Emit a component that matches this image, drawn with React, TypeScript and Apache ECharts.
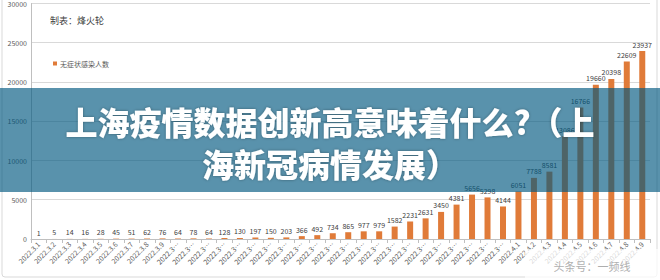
import React, { useEffect, useRef } from "react";
import * as echarts from "echarts";

const categories = [
  "2022.3.1", "2022.3.2", "2022.3.3", "2022.3.4", "2022.3.5", "2022.3.6", "2022.3.7", "2022.3.8", "2022.3.9", "2022.3.10",
  "2022.3.11", "2022.3.12", "2022.3.13", "2022.3.14", "2022.3.15", "2022.3.16", "2022.3.17", "2022.3.18", "2022.3.19", "2022.3.20",
  "2022.3.21", "2022.3.22", "2022.3.23", "2022.3.24", "2022.3.25", "2022.3.26", "2022.3.27", "2022.3.28", "2022.3.29", "2022.3.30",
  "2022.3.31", "2022.4.1", "2022.4.2", "2022.4.3", "2022.4.4", "2022.4.5", "2022.4.6", "2022.4.7", "2022.4.8", "2022.4.9",
];

const asymptomatic = [
  1, 5, 14, 16, 28, 45, 51, 62, 76, 64,
  78, 64, 128, 130, 197, 150, 203, 366, 492, 734,
  865, 977, 979, 1582, 2231, 2631, 3450, 4381, 5656, 5298,
  4144, 6051, 7788, 8581, 13086, 16766, 19660, 20398, 22609, 23937,
];

const seriesName = "无症状感染人数";
const makerText = "制表：烽火轮";
const titleLines = ["上海疫情数据创新高意味着什么?（上", "海新冠病情发展）"];
const watermark = "头条号：一频线";

export default function App() {
  const ref = useRef<HTMLDivElement>(null);
  useEffect(() => {
    document.body.style.margin = "0";
    const chart = echarts.init(ref.current!, undefined, { renderer: "svg" });
    chart.setOption({
      animation: false,
      backgroundColor: "#ffffff",
      textStyle: { fontFamily: "'Noto Sans CJK SC', 'Noto Sans', sans-serif" },
      grid: { left: 31, right: 10, top: 3, bottom: 41, containLabel: false },
      legend: {
        left: 48,
        top: 55,
        itemWidth: 4,
        itemHeight: 4,
        itemGap: 4,
        icon: "rect",
        data: [seriesName],
        textStyle: { fontSize: 7, color: "#595959", padding: [0, 0, 0, -2] },
      },
      xAxis: {
        type: "category",
        data: categories,
        axisLine: { lineStyle: { color: "#bfbfbf" } },
        axisTick: { show: true, length: 4, lineStyle: { color: "#bfbfbf" } },
        axisLabel: {
          interval: 0,
          rotate: 45,
          fontSize: 7,
          color: "#595959",
          margin: 4,
          formatter: (v: string) => (v.length > 8 ? v.slice(0, 6) + "…" : v),
        },
      },
      yAxis: {
        type: "value",
        min: 0,
        max: 30000,
        interval: 5000,
        axisLine: { show: true, lineStyle: { color: "#bfbfbf" } },
        axisTick: { show: false },
        axisLabel: { fontSize: 7, color: "#595959", margin: 4, formatter: (v: number) => String(v) },
        splitLine: { lineStyle: { color: "#d9d9d9" } },
      },
      series: [
        {
          name: seriesName,
          type: "bar",
          data: asymptomatic,
          barWidth: 6,
          itemStyle: { color: "#E07B39" },
          label: { show: true, position: "top", fontSize: 7, color: "#404040", distance: 3 },
        },
      ],
      graphic: [
        {
          type: "rect",
          shape: { x: 2, y: -10, width: 655, height: 287, r: 3 },
          style: { fill: "none", stroke: "#d9d9d9", lineWidth: 1 },
          z: 1,
          silent: true,
        },
        {
          type: "text",
          left: 50,
          top: 16,
          style: { text: makerText, fontSize: 9, fill: "#404040", fontFamily: "'Noto Sans CJK SC', sans-serif" },
          z: 10,
        },
        {
          type: "rect",
          shape: { x: 525, y: 249, width: 135, height: 31 },
          style: { fill: "rgba(255,255,255,0.75)" },
          z: 50,
          silent: true,
        },
        {
          type: "text",
          x: 592,
          y: 266,
          style: {
            text: watermark,
            fontSize: 11,
            fill: "rgba(160,160,160,0.85)",
            align: "center",
            verticalAlign: "middle",
            fontFamily: "'Noto Sans CJK SC', sans-serif",
          },
          z: 51,
        },
        {
          type: "rect",
          shape: { x: 0, y: 88, width: 660, height: 104 },
          style: { fill: "rgba(0,88,128,0.65)" },
          z: 100,
          silent: true,
        },
        {
          type: "text",
          x: 330,
          y: 142,
          style: {
            text: titleLines.join("\n"),
            fontSize: 32,
            lineHeight: 42,
            fontWeight: 900,
            fill: "#ffffff",
            align: "center",
            verticalAlign: "middle",
            fontFamily: "'Noto Sans CJK SC', sans-serif",
            textShadowBlur: 3,
            textShadowColor: "rgba(0,0,0,0.35)",
          },
          z: 101,
        },
      ],
    });
    return () => chart.dispose();
  }, []);
  return <div ref={ref} style={{ position: "fixed", left: 0, top: 0, width: 660, height: 280 }} />;
}
